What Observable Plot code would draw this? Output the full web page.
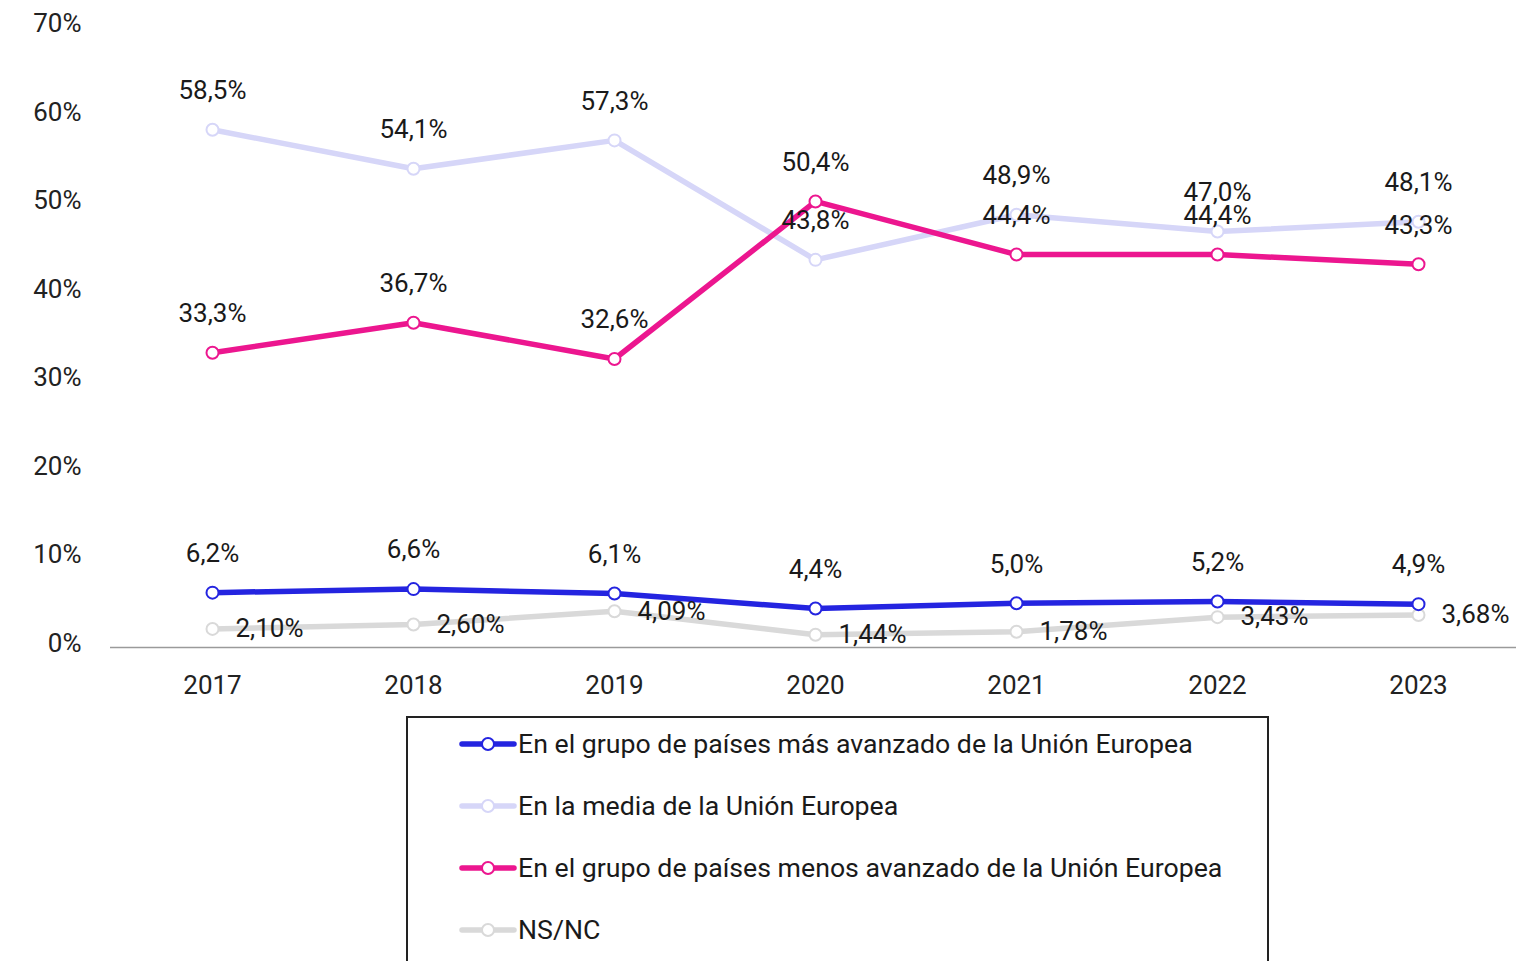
<!DOCTYPE html>
<html>
<head>
<meta charset="utf-8">
<script src="https://cdn.jsdelivr.net/npm/d3@7"></script>
<script src="https://cdn.jsdelivr.net/npm/@observablehq/plot@0.6"></script>
<style>
  html, body { margin: 0; padding: 0; background: #fff; overflow: hidden; }
  body { width: 1516px; height: 961px; font-family: Roboto, sans-serif; }
  #legend {
    position: absolute; left: 406px; top: 716px; width: 859px; height: 300px;
    border: 2px solid #222; background: #fff;
  }
  .item { position: absolute; left: 51px; height: 30px; display: flex; align-items: center;
    font-size: 26.7px; color: #1a1a1a; white-space: nowrap; }
  .item svg { margin-right: 1px; flex: none; }
</style>
</head>
<body>
<div id="chart"></div>
<div id="legend"></div>
<script>
const years = ["2017", "2018", "2019", "2020", "2021", "2022", "2023"];
const seriesNames = [
  "En el grupo de países más avanzado de la Unión Europea",
  "En la media de la Unión Europea",
  "En el grupo de países menos avanzado de la Unión Europea",
  "NS/NC"
];
const seriesColors = ["#2424e0", "#d6d6f8", "#ec168f", "#d9d9d9"];
const masAvanzado = [6.2, 6.6, 6.1, 4.4, 5.0, 5.2, 4.9];
const media = [58.5, 54.1, 57.3, 43.8, 48.9, 47.0, 48.1];
const menosAvanzado = [33.3, 36.7, 32.6, 50.4, 44.4, 44.4, 43.3];
const nsnc = [2.10, 2.60, 4.09, 1.44, 1.78, 3.43, 3.68];
const yTicks = [0, 10, 20, 30, 40, 50, 60, 70];

const seriesValues = [masAvanzado, media, menosAvanzado, nsnc];
const decimals = [1, 1, 1, 2];
const fmt = (v, d) => v.toFixed(d).replace(".", ",") + "%";

const rows = seriesNames.map((name, s) =>
  years.map((year, i) => ({
    year, value: seriesValues[s][i], serie: s,
    label: fmt(seriesValues[s][i], decimals[s])
  }))
);

// draw order: NS/NC, media, menos, más
const order = [3, 1, 2, 0];
const marks = [Plot.ruleY([0], {stroke: "#9a9a9a", strokeWidth: 1.5})];
for (const s of order) {
  marks.push(Plot.line(rows[s], {x: "year", y: "value", stroke: seriesColors[s], strokeWidth: 5.5}));
  marks.push(Plot.dot(rows[s], {x: "year", y: "value", r: 6, fill: "white", stroke: seriesColors[s], strokeWidth: 2}));
}
for (const s of order) {
  if (s === 3) {
    marks.push(Plot.text(rows[s], {x: "year", y: "value", text: "label", textAnchor: "start", dx: 23, dy: 0, fill: "#1a1a1a"}));
  } else {
    marks.push(Plot.text(rows[s], {x: "year", y: "value", text: "label", dy: -39, fill: "#1a1a1a"}));
  }
}
marks.push(Plot.axisY({ticks: yTicks, tickSize: 0, tickPadding: 29, tickFormat: d => d + "%", dy: -4, label: null, fill: "#222"}));
marks.push(Plot.axisX({tickSize: 0, tickPadding: 28, label: null, fill: "#222"}));

const chart = Plot.plot({
  width: 1516,
  height: 710,
  marginLeft: 110,
  marginRight: 0,
  marginTop: 27.5,
  marginBottom: 63,
  style: {fontFamily: "Roboto, sans-serif", fontSize: "26px", color: "#1a1a1a", background: "white", overflow: "visible"},
  x: {type: "point", domain: years, range: [211, 1418], padding: 0},
  y: {domain: [0, 70]},
  marks
});
document.getElementById("chart").appendChild(chart);

const legend = document.getElementById("legend");
seriesNames.forEach((name, i) => {
  const item = document.createElement("div");
  item.className = "item";
  item.style.top = (11 + i * 62) + "px";
  const c = seriesColors[i];
  item.innerHTML = `<svg width="58" height="20" viewBox="0 0 58 20">
    <line x1="3" y1="10" x2="55" y2="10" stroke="${c}" stroke-width="5.5" stroke-linecap="round"/>
    <circle cx="29" cy="10" r="6" fill="white" stroke="${c}" stroke-width="2"/></svg>`;
  const span = document.createElement("span");
  span.textContent = name;
  item.appendChild(span);
  legend.appendChild(item);
});
</script>
</body>
</html>
